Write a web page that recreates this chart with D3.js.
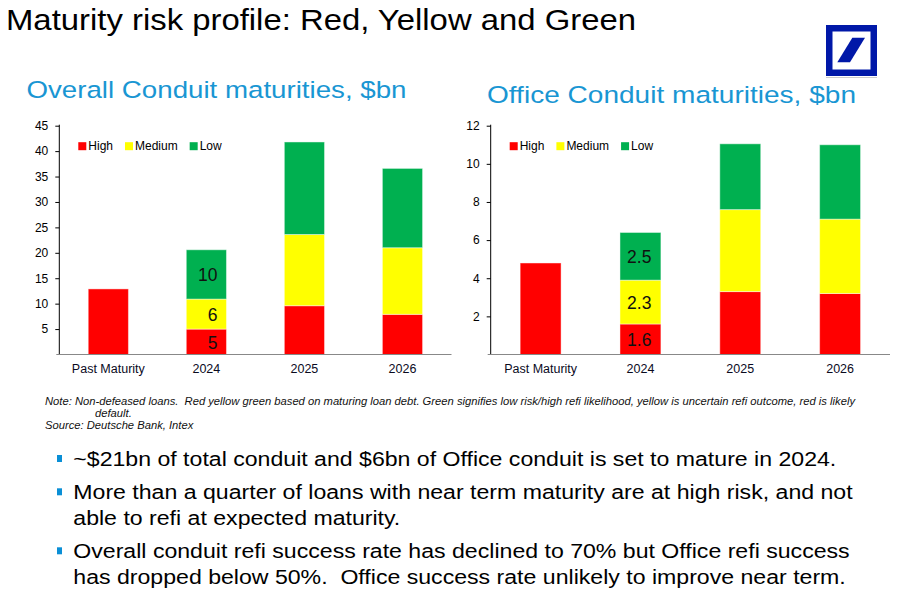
<!DOCTYPE html>
<html>
<head>
<meta charset="utf-8">
<script src="https://cdn.jsdelivr.net/npm/d3@7"></script>
<style>
  body { margin: 0; background: #fff; }
  text { font-family: "Liberation Sans", Arial, sans-serif; white-space: pre; }
</style>
</head>
<body>
<script>
// chart data
const categories = ["Past Maturity", "2024", "2025", "2026"];
const riskLevels = ["High", "Medium", "Low"];
const riskColors = ["#ff0000", "#ffff00", "#00b050"];

const overallHigh = [12.9, 5.0, 9.6, 7.9];
const overallMedium = [0, 5.9, 14.0, 13.1];
const overallLow = [0, 9.7, 18.2, 15.6];
const overallTicks = [5, 10, 15, 20, 25, 30, 35, 40, 45];

const officeHigh = [4.8, 1.6, 3.3, 3.2];
const officeMedium = [0, 2.3, 4.3, 3.9];
const officeLow = [0, 2.5, 3.45, 3.9];
const officeTicks = [2, 4, 6, 8, 10, 12];

const labelledCategory = "2024";

const titleText = "Maturity risk profile: Red, Yellow and Green";
const noteLines = [
  "Note: Non-defeased loans.  Red yellow green based on maturing loan debt. Green signifies low risk/high refi likelihood, yellow is uncertain refi outcome, red is likely",
  "default.",
  "Source: Deutsche Bank, Intex"
];
const bullets = [
  ["~$21bn of total conduit and $6bn of Office conduit is set to mature in 2024."],
  ["More than a quarter of loans with near term maturity are at high risk, and not",
   "able to refi at expected maturity."],
  ["Overall conduit refi success rate has declined to 70% but Office refi success",
   "has dropped below 50%.  Office success rate unlikely to improve near term."]
];

const svgWidth = 921, svgHeight = 614;

let svg = d3.select("body")
  .append("svg")
  .attr("width", svgWidth)
  .attr("height", svgHeight);

// squeeze a text to a condensed look (the slide font is narrower than Arial)
function squeeze(sel, ratio) {
  sel.each(function() {
    let w = this.getComputedTextLength();
    d3.select(this).attr("textLength", w * ratio).attr("lengthAdjust", "spacingAndGlyphs");
  });
}

// title
let title = svg.append("text")
  .attr("x", 6).attr("y", 30)
  .attr("font-size", 30)
  .attr("fill", "#000")
  .text(titleText);
title.attr("textLength", 630).attr("lengthAdjust", "spacingAndGlyphs");

// Deutsche Bank logo
let logo = svg.append("g").attr("transform", "translate(826, 25)");
logo.append("rect").attr("width", 51).attr("height", 51).attr("fill", "#0018a8");
logo.append("rect").attr("x", 6.5).attr("y", 6.5).attr("width", 38).attr("height", 38).attr("fill", "#fff");
logo.append("polygon")
  .attr("points", "11.3,37.3 24,37.3 39,12.7 26.3,12.7")
  .attr("fill", "#0018a8");
svg.append("line")
  .attr("x1", 826).attr("x2", 877).attr("y1", 77.5).attr("y2", 77.5)
  .attr("stroke", "#ccc");

function drawChart(opts) {
  let data = categories.map((c, i) => ({
    category: c,
    High: opts.high[i],
    Medium: opts.medium[i],
    Low: opts.low[i]
  }));

  let g = svg.append("g");

  let sub = g.append("text")
    .attr("x", opts.subX).attr("y", opts.subY)
    .attr("font-size", 24.5)
    .attr("fill", "#1996d3")
    .text(opts.subtitle);
  sub.attr("textLength", opts.subW).attr("lengthAdjust", "spacingAndGlyphs");

  let x = d3.scaleBand()
    .domain(categories)
    .range([opts.left, opts.right])
    .paddingInner(0.59)
    .paddingOuter(0.295);

  let y = d3.scaleLinear()
    .domain([0, opts.yMax])
    .range([opts.bottom, opts.top]);

  let series = d3.stack().keys(riskLevels)(data);

  g.selectAll(".layer")
    .data(series)
    .enter()
    .append("g")
    .attr("fill", (d, i) => riskColors[i])
    .selectAll("rect")
    .data(d => d.filter(s => s[1] - s[0] > 0))
    .enter()
    .append("rect")
    .attr("x", d => x(d.data.category))
    .attr("width", x.bandwidth())
    .attr("y", d => y(d[1]))
    .attr("height", d => y(d[0]) - y(d[1]))
    .attr("stroke", "rgba(255,255,255,0.45)")
    .attr("stroke-width", 1);

  // value labels on the 2024 bar
  series.forEach(s => {
    let d = s.find(p => p.data.category === labelledCategory);
    g.append("text")
      .attr("x", x(labelledCategory) + x.bandwidth() / 2 + 11)
      .attr("y", (y(d[0]) + y(d[1])) / 2)
      .attr("dy", "0.4em")
      .attr("text-anchor", "end")
      .attr("font-size", 17.5)
      .attr("fill", "#111")
      .text(opts.fmt(d[1] - d[0]));
  });

  // axes
  let leftAxis = d3.axisLeft(y).tickValues(opts.ticks).tickSize(4).tickPadding(7);
  let yAxis = g.append("g")
    .attr("transform", `translate(${opts.left}, 0)`)
    .call(leftAxis);
  yAxis.select(".domain").attr("d", `M0,${opts.bottom}V${opts.top - 1}`).attr("stroke", "#000");
  yAxis.selectAll("text").attr("font-size", 12).attr("fill", "#000").attr("font-family", "Liberation Sans, Arial, sans-serif");
  yAxis.selectAll(".tick line").attr("stroke", "#000");

  let bottomAxis = d3.axisBottom(x).tickSize(0).tickPadding(10);
  let xAxis = g.append("g")
    .attr("transform", `translate(0, ${opts.bottom})`)
    .call(bottomAxis);
  xAxis.select(".domain").attr("d", `M${opts.left - 3},0H${opts.right}`).attr("stroke", "#888");
  xAxis.selectAll("text").attr("font-size", 12.5).attr("fill", "#0a0a1e").attr("font-family", "Liberation Sans, Arial, sans-serif");

  // legend
  let lx = opts.left + 19;
  riskLevels.forEach((k, i) => {
    g.append("rect")
      .attr("x", lx).attr("y", opts.top + 16.5)
      .attr("width", 8).attr("height", 8)
      .attr("fill", riskColors[i]);
    let t = g.append("text")
      .attr("x", lx + 10).attr("y", opts.top + 24)
      .attr("font-size", 12)
      .attr("fill", "#000")
      .text(k);
    lx += 10 + t.node().getComputedTextLength() + 12;
  });
}

drawChart({
  subtitle: "Overall Conduit maturities, $bn",
  subX: 26.5, subY: 97.5, subW: 380,
  high: overallHigh, medium: overallMedium, low: overallLow,
  ticks: overallTicks, yMax: 45,
  left: 59.3, right: 451.5, top: 125.7, bottom: 354.5,
  fmt: d3.format(".0f")
});

drawChart({
  subtitle: "Office Conduit maturities, $bn",
  subX: 487, subY: 103, subW: 369,
  high: officeHigh, medium: officeMedium, low: officeLow,
  ticks: officeTicks, yMax: 12,
  left: 490.7, right: 890, top: 125.7, bottom: 354.5,
  fmt: d3.format(".1f")
});

// note and source
let notes = svg.append("g").attr("font-style", "italic").attr("fill", "#111");
let noteY = [404.5, 416.5, 429];
let noteX = [45, 95, 45];
let noteTexts = notes.selectAll("text")
  .data(noteLines)
  .enter()
  .append("text")
  .attr("x", (d, i) => noteX[i])
  .attr("y", (d, i) => noteY[i])
  .attr("font-size", 10)
  .text(d => d);
let nw = noteTexts.nodes()[0].getComputedTextLength();
squeeze(noteTexts, 810 / nw);

// bullet points
let bulletBase = [466, 499.3, 558.3];
let bulletG = svg.append("g");
let lines = [];
bullets.forEach((b, i) => {
  bulletG.append("rect")
    .attr("x", 57).attr("y", bulletBase[i] - 11)
    .attr("width", 5).attr("height", 7)
    .attr("fill", "#0a8fd6");
  b.forEach((line, j) => {
    let t = bulletG.append("text")
      .attr("x", 73.3)
      .attr("y", bulletBase[i] + j * 25.3)
      .attr("font-size", 20)
      .attr("fill", "#000")
      .text(line);
    lines.push(t);
  });
});
let bw = lines[0].node().getComputedTextLength();
lines.forEach(t => squeeze(t, 763 / bw));
</script>
</body>
</html>
